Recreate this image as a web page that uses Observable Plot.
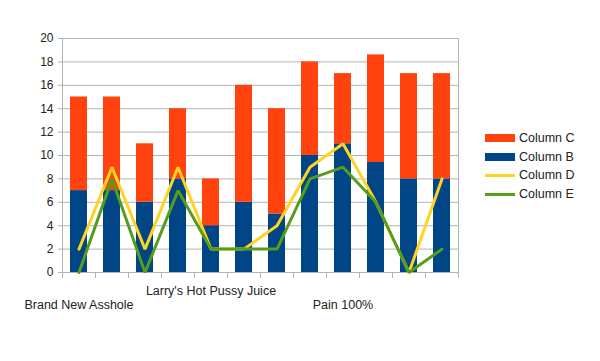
<!DOCTYPE html>
<html>
<head>
<meta charset="utf-8">
<script src="https://cdn.jsdelivr.net/npm/d3@7"></script>
<script src="https://cdn.jsdelivr.net/npm/@observablehq/plot@0.6"></script>
<style>
  html, body { margin: 0; padding: 0; background: #fff; }
  #wrap { position: relative; width: 600px; height: 361px; font-family: "Liberation Sans", Arial, sans-serif; }
  #legend { position: absolute; left: 485px; top: 129px; font-size: 12.5px; color: #222; }
  .row { display: flex; align-items: center; height: 18.6px; }
  .sw { width: 30px; margin-right: 4px; }
</style>
</head>
<body>
<div id="wrap"></div>
<script>
const categories = ["Brand New Asshole", "", "", "", "Larry's Hot Pussy Juice", "", "", "", "Pain 100%", "", "", ""];
const colB = [7, 7, 6, 8, 4, 6, 5, 10, 11, 9.4, 8, 8];
const colC = [8, 8, 5, 6, 4, 10, 9, 8, 6, 9.2, 9, 9];
const colD = [2, 9, 2, 9, 2, 2, 4, 9, 11, 6, 0, 8];
const colE = [0, 8, 0, 7, 2, 2, 2, 8, 9, 6, 0, 2];
const yTicks = [0, 2, 4, 6, 8, 10, 12, 14, 16, 18, 20];
const seriesNames = ["Column B", "Column C", "Column D", "Column E"];
const seriesColors = ["#004586", "#ff420e", "#ffd320", "#579d1c"];

const idx = categories.map((_, i) => i);
const bars = [];
idx.forEach(i => {
  bars.push({i, series: "Column B", value: colB[i]});
  bars.push({i, series: "Column C", value: colC[i]});
});
const lineD = idx.map(i => ({i, value: colD[i]}));
const lineE = idx.map(i => ({i, value: colE[i]}));
const labels = idx.filter(i => categories[i] !== "").map(i => ({i, text: categories[i], row: (i % 8 === 0) ? 1 : 0}));
const bounds = idx.map(i => ({i, side: -1})).concat([{i: idx.length - 1, side: 1}]);

const chart = Plot.plot({
  width: 600,
  height: 361,
  marginLeft: 62,
  marginRight: 142,
  marginTop: 38,
  marginBottom: 89,
  style: {fontFamily: "Liberation Sans, Arial, sans-serif", fontSize: "12px", color: "#222", background: "#fff"},
  x: {type: "band", domain: idx, paddingInner: 0.5, paddingOuter: 0.25, axis: null},
  y: {domain: [0, 20], axis: null},
  color: {domain: seriesNames, range: seriesColors},
  marks: [
    Plot.gridY(yTicks, {stroke: "#b3b3b3", strokeOpacity: 1}),
    Plot.frame({stroke: "#b3b3b3"}),
    Plot.axisY(yTicks, {tickSize: 4, tickPadding: 5, stroke: "#b3b3b3", fill: "#222", fontSize: 12, label: null}),
    Plot.barY(bars, {x: "i", y: "value", fill: "series"}),
    Plot.lineY(lineD, {x: "i", y: "value", stroke: seriesColors[2], strokeWidth: 3, strokeLinejoin: "miter"}),
    Plot.lineY(lineE, {x: "i", y: "value", stroke: seriesColors[3], strokeWidth: 3, strokeLinejoin: "miter"}),
    Plot.ruleX(bounds.filter(d => d.side < 0), {x: "i", y1: 0, y2: -0.5, dx: -16.5, stroke: "#b3b3b3"}),
    Plot.ruleX(bounds.filter(d => d.side > 0), {x: "i", y1: 0, y2: -0.5, dx: 16.5, stroke: "#b3b3b3"}),
    Plot.text(labels.filter(d => d.row === 0), {x: "i", y: 0, text: "text", dy: 18, fontSize: 12.5, fill: "#222"}),
    Plot.text(labels.filter(d => d.row === 1), {x: "i", y: 0, text: "text", dy: 32, fontSize: 12.5, fill: "#222"})
  ]
});

const wrap = document.getElementById("wrap");
wrap.appendChild(chart);

const legendOrder = ["Column C", "Column B", "Column D", "Column E"];
const legend = document.createElement("div");
legend.id = "legend";
legendOrder.forEach(name => {
  const k = seriesNames.indexOf(name);
  const row = document.createElement("div");
  row.className = "row";
  const sw = document.createElement("div");
  sw.className = "sw";
  sw.style.background = seriesColors[k];
  sw.style.height = k < 2 ? "8px" : "3px";
  const t = document.createElement("span");
  t.textContent = name;
  row.appendChild(sw);
  row.appendChild(t);
  legend.appendChild(row);
});
wrap.appendChild(legend);
</script>
</body>
</html>
